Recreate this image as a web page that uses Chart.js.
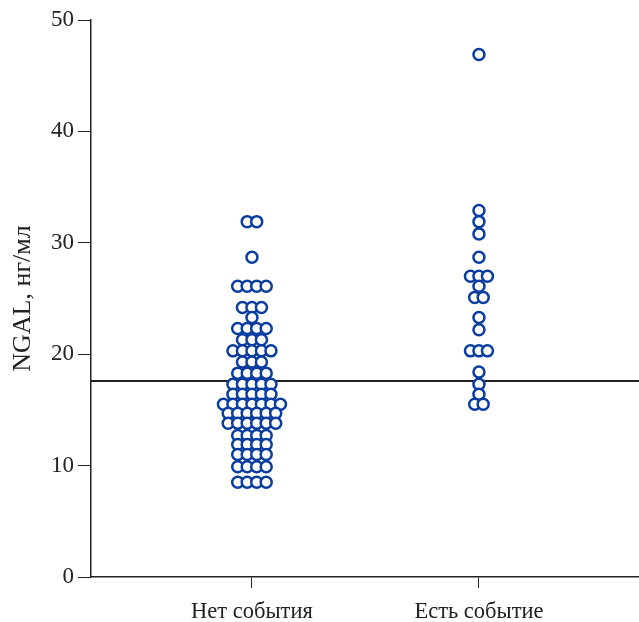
<!DOCTYPE html>
<html>
<head>
<meta charset="utf-8">
<script src="https://cdn.jsdelivr.net/npm/chart.js@4/dist/chart.umd.min.js"></script>
<style>
  html, body { margin: 0; background: #fff; }
  #wrap { width: 639px; height: 622px; }
</style>
</head>
<body>
<div id="wrap"><canvas id="chart"></canvas></div>
<script>
  // Values (ng/ml), repeated values = stacked dots in one row
  const categories = ['Нет события', 'Есть событие'];
  const noEventValues = [
    31.9, 31.9,
    28.7,
    26.1, 26.1, 26.1, 26.1,
    24.2, 24.2, 24.2,
    23.3,
    22.3, 22.3, 22.3, 22.3,
    21.3, 21.3, 21.3,
    20.3, 20.3, 20.3, 20.3, 20.3,
    19.3, 19.3, 19.3,
    18.3, 18.3, 18.3, 18.3,
    17.3, 17.3, 17.3, 17.3, 17.3,
    16.4, 16.4, 16.4, 16.4, 16.4,
    15.5, 15.5, 15.5, 15.5, 15.5, 15.5, 15.5,
    14.7, 14.7, 14.7, 14.7, 14.7, 14.7,
    13.8, 13.8, 13.8, 13.8, 13.8, 13.8,
    12.7, 12.7, 12.7, 12.7,
    11.9, 11.9, 11.9, 11.9,
    11.0, 11.0, 11.0, 11.0,
    9.9, 9.9, 9.9, 9.9,
    8.5, 8.5, 8.5, 8.5,
  ];
  const eventValues = [
    46.9, 32.9, 31.9, 30.8, 28.7,
    27.0, 27.0, 27.0,
    26.1,
    25.1, 25.1,
    23.3, 22.2,
    20.3, 20.3, 20.3,
    18.4, 17.3, 16.4,
    15.5, 15.5,
  ];
  const cutoff = 17.6;
  const yTicks = [0, 10, 20, 30, 40, 50];

  const dotColor = '#0a3d9f';
  const xMin = 0.291;
  const xMax = 2.705;
  const pxPerUnit = 227;

  // spread equal values side by side around the category centre
  function swarm(values, centre, stepPx) {
    const counts = new Map();
    values.forEach((v) => counts.set(v, (counts.get(v) || 0) + 1));
    const out = [];
    counts.forEach((n, v) => {
      for (let i = 0; i < n; i += 1) {
        out.push({ x: centre + ((i - (n - 1) / 2) * stepPx) / pxPerUnit, y: v });
      }
    });
    return out;
  }

  const serif = '"Liberation Serif", "Times New Roman", serif';
  const ink = '#222';

  new Chart(document.getElementById('chart'), {
    type: 'scatter',
    data: {
      datasets: [
        {
          data: swarm(noEventValues, 1, 9.5),
          pointRadius: 5.5,
          pointBorderWidth: 2.5,
          pointBorderColor: dotColor,
          pointBackgroundColor: '#fff',
        },
        {
          data: swarm(eventValues, 2, 8.5),
          pointRadius: 5.5,
          pointBorderWidth: 2.5,
          pointBorderColor: dotColor,
          pointBackgroundColor: '#fff',
        },
        {
          type: 'line',
          data: [{ x: xMin, y: cutoff }, { x: xMax, y: cutoff }],
          borderColor: ink,
          borderWidth: 2,
          pointRadius: 0,
        },
      ],
    },
    options: {
      responsive: true,
      maintainAspectRatio: false,
      animation: false,
      layout: { autoPadding: false, padding: { top: 20, right: 0, left: 0, bottom: 0 } },
      plugins: { legend: { display: false }, tooltip: { enabled: false } },
      scales: {
        x: {
          type: 'linear',
          min: xMin,
          max: xMax,
          afterBuildTicks: (scale) => { scale.ticks = [{ value: 1 }, { value: 2 }]; },
          afterFit: (scale) => { scale.height = 45; },
          ticks: {
            callback: (v) => categories[Math.round(v) - 1],
            color: ink,
            font: { family: serif, size: 22.5 },
            padding: 11,
            maxRotation: 0,
          },
          grid: { drawOnChartArea: false, tickLength: 11, color: ink, lineWidth: 1 },
          border: { display: true, color: ink, width: 1.5 },
        },
        y: {
          min: 0,
          max: 50,
          afterBuildTicks: (scale) => { scale.ticks = yTicks.map((v) => ({ value: v })); },
          afterFit: (scale) => { scale.width = 91; },
          ticks: {
            color: ink,
            font: { family: serif, size: 23 },
            padding: 4,
          },
          title: {
            display: true,
            text: 'NGAL, нг/мл',
            color: ink,
            font: { family: serif, size: 26 },
            padding: { top: 8, bottom: 0 },
          },
          grid: { drawOnChartArea: false, tickLength: 13, color: ink, lineWidth: 1 },
          border: { display: true, color: ink, width: 1.5 },
        },
      },
    },
  });
</script>
</body>
</html>
